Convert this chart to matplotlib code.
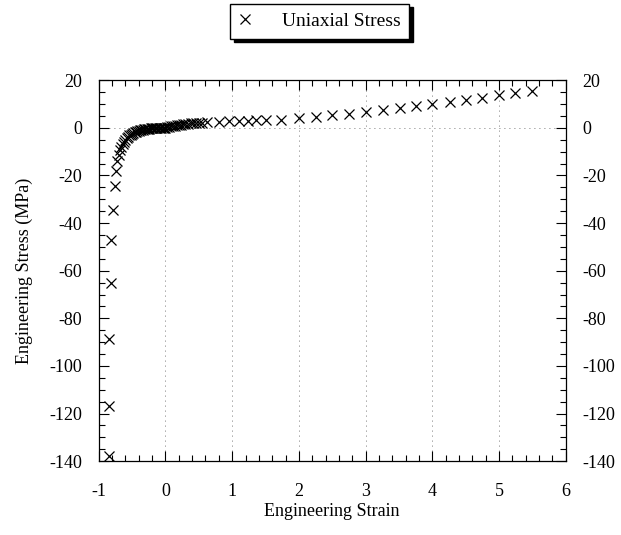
import numpy as np
import matplotlib
matplotlib.use('Agg')
import matplotlib.pyplot as plt
from matplotlib.ticker import MultipleLocator

plt.rcParams['font.family'] = ['Liberation Serif', 'DejaVu Serif']
plt.rcParams['axes.unicode_minus'] = False

# Data (compression branch, then tension branch)
strain_comp = [-0.85, -0.84, -0.84, -0.82, -0.81, -0.79, -0.76, -0.74, -0.72, -0.70,
               -0.68, -0.66, -0.64, -0.62, -0.60, -0.58, -0.56, -0.54, -0.52, -0.50,
               -0.48, -0.46, -0.44, -0.42, -0.40, -0.38, -0.36, -0.34, -0.32, -0.30,
               -0.28, -0.26, -0.24, -0.22, -0.20, -0.18, -0.16, -0.14, -0.12, -0.10,
               -0.08, -0.06, -0.04, -0.02, 0.0]
stress_comp = [-138, -117, -88.5, -65, -47, -34.5, -24.5, -18, -14, -11.5,
               -9.5, -8.0, -6.8, -5.8, -5.0, -4.3, -3.7, -3.2, -2.8, -2.4,
               -2.1, -1.8, -1.6, -1.4, -1.2, -1.0, -0.9, -0.75, -0.65, -0.55,
               -0.45, -0.38, -0.32, -0.26, -0.2, -0.16, -0.12, -0.08, -0.06, -0.04,
               -0.02, -0.01, 0.0, 0.0, 0.0]

strain_tens = [0.03, 0.06, 0.09, 0.12, 0.15, 0.18, 0.21, 0.24, 0.27, 0.30,
               0.34, 0.38, 0.42, 0.46, 0.50, 0.55, 0.63, 0.81, 0.96, 1.10,
               1.23, 1.36, 1.50, 1.73, 2.00, 2.26, 2.50, 2.75, 3.01, 3.26,
               3.51, 3.75, 4.00, 4.26, 4.50, 4.75, 5.00, 5.24, 5.49]
stress_tens = [0.2, 0.4, 0.6, 0.8, 0.95, 1.1, 1.25, 1.4, 1.5, 1.6,
               1.75, 1.85, 1.95, 2.05, 2.15, 2.25, 2.4, 2.6, 2.75, 2.9,
               3.0, 3.1, 3.3, 3.5, 4.0, 4.6, 5.4, 6.0, 6.8, 7.6,
               8.2, 9.0, 10.0, 10.9, 11.7, 12.6, 13.7, 14.5, 15.4]

strain = strain_comp + strain_tens
stress = stress_comp + stress_tens

fig = plt.figure(figsize=(6.21, 5.35), dpi=100)
ax = fig.add_axes([0.159, 0.138, 0.752, 0.712])

ax.plot(strain, stress, 'x', color='black', markersize=6.5, markeredgewidth=0.9,
        label='Uniaxial Stress')

ax.set_xlim(-1, 6)
ax.set_ylim(-140, 20)
ax.xaxis.set_major_locator(MultipleLocator(1))
ax.xaxis.set_minor_locator(MultipleLocator(0.2))
ax.yaxis.set_major_locator(MultipleLocator(20))
ax.yaxis.set_minor_locator(MultipleLocator(5))
ax.tick_params(which='both', direction='in', top=True, right=True,
               labelright=True, labelsize=13)
ax.tick_params(axis='x', which='both', pad=16)
ax.tick_params(axis='y', which='both', pad=12)
ax.tick_params(which='major', length=7, width=0.8)
ax.tick_params(which='minor', length=4, width=0.8)

# dotted grid lines (only the visible ones)
ax.grid(axis='x', which='major', color='0.3', linestyle=(0, (1, 5)), linewidth=0.6)
ax.axhline(0, color='0.3', linestyle=(0, (1, 5)), linewidth=0.6, zorder=0)

ax.set_xlabel('Engineering Strain', fontsize=13, labelpad=2)
ax.set_ylabel('Engineering Stress (MPa)', fontsize=13, labelpad=12)

for s in ax.spines.values():
    s.set_linewidth(0.9)

fig.legend(loc='center', bbox_to_anchor=(0.515, 0.96), fontsize=14,
           frameon=True, fancybox=False, edgecolor='black', framealpha=1,
           shadow={'color': 'black', 'alpha': 1, 'ox': 2.5, 'oy': -2.5},
           handlelength=0.6, handletextpad=1.6, borderpad=0.45, borderaxespad=0)

fig.savefig('out.png', dpi=100)
